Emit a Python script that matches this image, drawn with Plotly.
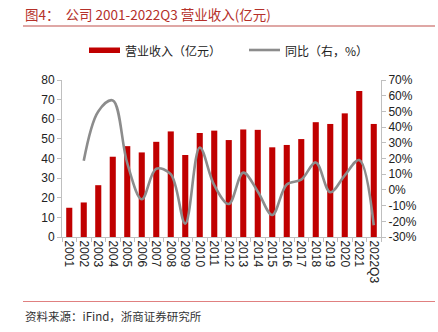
import plotly.graph_objects as go

years = ["2001", "2002", "2003", "2004", "2005", "2006", "2007", "2008", "2009", "2010",
         "2011", "2012", "2013", "2014", "2015", "2016", "2017", "2018", "2019", "2020",
         "2021", "2022Q3"]
revenue = [14.9, 17.6, 26.4, 40.9, 46.3, 43.1, 48.5, 53.8, 41.8, 53.0,
           54.2, 49.4, 54.8, 54.6, 45.7, 46.9, 49.9, 58.5, 57.6, 63.0,
           74.4, 57.6]
yoy = [None, 18.5, 50.0, 57.0, 17.0, -6.0, 13.5, 10.0, -21.5, 27.0,
       3.0, -9.0, 11.0, -1.0, -16.0, 3.5, 6.5, 17.5, -1.5, 9.3,
       19.0, -22.5]
left_ticks = [0, 10, 20, 30, 40, 50, 60, 70, 80]
right_ticks = [-30, -20, -10, 0, 10, 20, 30, 40, 50, 60, 70]

title_text = "图4：  公司 2001-2022Q3 营业收入(亿元)"
source_text = "资料来源：iFind，浙商证券研究所"
bar_name = "营业收入（亿元）"
line_name = "同比（右，%）"

BAR_COLOR = "#C00000"
LINE_COLOR = "#8C8C8C"
AXIS_COLOR = "#BFBFBF"
CJK = "Noto Sans CJK SC"
LATIN = "Liberation Sans, Arial, sans-serif"

W, H = 438, 332
L, R, T, B = 62, 381, 80, 237

fig = go.Figure()
fig.add_trace(go.Bar(x=years, y=revenue, name=bar_name, marker_color=BAR_COLOR,
                     marker_line_width=0, width=0.42, showlegend=False))
fig.add_trace(go.Scatter(x=years, y=yoy, name=line_name, yaxis="y2", mode="lines",
                         line=dict(color=LINE_COLOR, width=2.6, shape="spline", smoothing=1.0),
                         showlegend=False))

def px(x):
    return (x - L) / (R - L)

def py(y):
    return (B - y) / (B - T)

fig.update_layout(
    width=W, height=H,
    margin=dict(l=L, r=W - R, t=T, b=H - B, pad=0),
    plot_bgcolor="white", paper_bgcolor="white",
    xaxis=dict(type="category", tickangle=90, showgrid=False, showline=True,
               linecolor=AXIS_COLOR, linewidth=1, ticks="outside", ticklen=4,
               tickcolor=AXIS_COLOR, tickson="boundaries",
               tickfont=dict(family=LATIN, size=12, color="#222")),
    yaxis=dict(range=[0, 80], tickvals=left_ticks, showgrid=False, zeroline=False,
               showline=True, linecolor=AXIS_COLOR, linewidth=1, ticks="outside",
               ticklen=4, tickcolor=AXIS_COLOR,
               tickfont=dict(family=LATIN, size=12, color="#222")),
    yaxis2=dict(range=[-30, 70], tickvals=right_ticks,
                ticktext=[f"{v}%" for v in right_ticks],
                overlaying="y", side="right", showgrid=False, zeroline=False,
                showline=True, linecolor=AXIS_COLOR, linewidth=1, ticks="outside",
                ticklen=4, tickcolor=AXIS_COLOR,
                tickfont=dict(family=LATIN, size=12, color="#222")),
    showlegend=False,
)

shapes = [
    # title underline
    dict(type="line", xref="paper", yref="paper", x0=px(23), x1=px(435), y0=py(26), y1=py(26),
         line=dict(color="#C0504D", width=1.2)),
    # bottom rule
    dict(type="line", xref="paper", yref="paper", x0=px(23), x1=px(435), y0=py(301.5), y1=py(301.5),
         line=dict(color="#E08080", width=1.2)),
    # legend symbols
    dict(type="rect", xref="paper", yref="paper", x0=px(89), x1=px(120), y0=py(53), y1=py(47.5),
         fillcolor=BAR_COLOR, line=dict(width=0)),
    dict(type="line", xref="paper", yref="paper", x0=px(249), x1=px(280), y0=py(50), y1=py(50),
         line=dict(color=LINE_COLOR, width=2.6)),
]

annotations = [
    dict(text=title_text, xref="paper", yref="paper", x=px(23), y=py(14), xanchor="left",
         yanchor="middle", showarrow=False, font=dict(family=CJK, size=13.5, color="#B5302A")),
    dict(text=source_text, xref="paper", yref="paper", x=px(23), y=py(316), xanchor="left",
         yanchor="middle", showarrow=False, font=dict(family=CJK, size=11.5, color="#333")),
    dict(text=bar_name, xref="paper", yref="paper", x=px(123), y=py(50), xanchor="left",
         yanchor="middle", showarrow=False, font=dict(family=CJK, size=12, color="#222")),
    dict(text=line_name, xref="paper", yref="paper", x=px(283), y=py(50), xanchor="left",
         yanchor="middle", showarrow=False, font=dict(family=CJK, size=12, color="#222")),
]
fig.update_layout(shapes=shapes, annotations=annotations)

fig.write_html("out.html")
